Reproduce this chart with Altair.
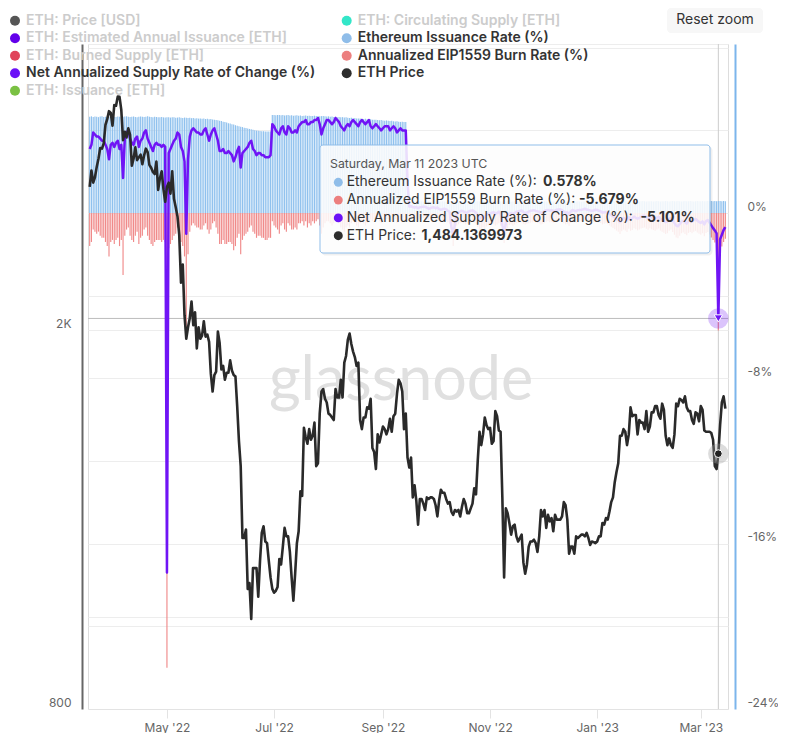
import altair as alt
import pandas as pd

# ---------------- data (daily, 2022-03-18 .. 2023-03-15) ----------------
price_2022_03 = [2830, 2945, 2860, 2897, 2970, 3030, 3110, 3105, 3145, 3290, 3335, 3400, 3385, 3282]
price_2022_04 = [3450, 3445, 3522, 3520, 3410, 3170, 3235, 3190, 3262, 3210, 2980, 3030, 3115, 3020, 3040,
                 3060, 2990, 3055, 3105, 3080, 2985, 2965, 2935, 2920, 3010, 2810, 2890, 2940, 2815, 2730]
price_2022_05 = [2830, 2860, 2785, 2940, 2750, 2695, 2635, 2520, 2245, 2345, 2075, 1960, 2015, 2060, 2145,
                 2025, 2090, 1915, 2015, 1960, 1975, 2045, 1970, 1980, 1945, 1800, 1725, 1795, 1810, 1995, 1940]
price_2022_06 = [1820, 1835, 1775, 1805, 1805, 1860, 1815, 1795, 1790, 1665, 1530, 1440, 1210, 1210, 1235,
                 1070, 1085, 995, 1125, 1125, 1125, 1050, 1145, 1225, 1245, 1200, 1195, 1145, 1100, 1070]
price_2022_07 = [1060, 1065, 1075, 1150, 1135, 1185, 1240, 1215, 1215, 1170, 1100, 1040, 1110, 1195, 1230,
                 1355, 1340, 1580, 1545, 1520, 1575, 1535, 1550, 1600, 1440, 1450, 1635, 1725, 1735, 1695, 1680]
price_2022_08 = [1635, 1630, 1620, 1610, 1735, 1700, 1700, 1775, 1700, 1850, 1880, 1955, 1985, 1935, 1900,
                 1875, 1835, 1850, 1610, 1575, 1620, 1620, 1660, 1655, 1695, 1505, 1490, 1430, 1555, 1525, 1555]
price_2022_09 = [1585, 1575, 1555, 1575, 1615, 1565, 1625, 1635, 1715, 1775, 1760, 1725, 1575, 1635, 1470,
                 1435, 1470, 1335, 1375, 1325, 1250, 1330, 1330, 1315, 1295, 1335, 1330, 1335, 1335, 1330]
price_2022_10 = [1310, 1275, 1325, 1360, 1350, 1350, 1330, 1315, 1320, 1290, 1280, 1295, 1290, 1295, 1275,
                 1305, 1330, 1315, 1285, 1285, 1300, 1315, 1365, 1345, 1460, 1565, 1515, 1555, 1620, 1590, 1575]
price_2022_11 = [1580, 1520, 1530, 1645, 1625, 1570, 1565, 1335, 1100, 1300, 1285, 1255, 1220, 1245, 1250,
                 1215, 1200, 1210, 1220, 1140, 1110, 1135, 1185, 1200, 1200, 1205, 1195, 1170, 1215, 1295]
price_2022_12 = [1275, 1295, 1240, 1280, 1260, 1270, 1230, 1280, 1265, 1265, 1265, 1275, 1320, 1310, 1265,
                 1165, 1185, 1185, 1165, 1215, 1210, 1215, 1220, 1220, 1215, 1225, 1210, 1190, 1200, 1198, 1195]
price_2023_01 = [1200, 1215, 1215, 1255, 1250, 1270, 1265, 1290, 1320, 1335, 1385, 1420, 1450, 1550, 1550,
                 1575, 1565, 1515, 1555, 1660, 1625, 1630, 1630, 1555, 1610, 1600, 1600, 1575, 1645, 1565, 1585]
price_2023_02 = [1640, 1640, 1665, 1665, 1630, 1615, 1675, 1650, 1550, 1515, 1540, 1515, 1505, 1555, 1675,
                 1665, 1695, 1690, 1680, 1705, 1660, 1645, 1645, 1610, 1595, 1640, 1635, 1605]
price_2023_03 = [1665, 1650, 1570, 1565, 1565, 1565, 1560, 1535, 1440, 1430, 1484.1369973, 1590, 1680, 1705, 1655]

# pre-merge (2022-03-18 .. 2022-09-15), rows of 10 days
iss_pre = [
    4.66, 4.68, 4.65, 4.67, 4.66, 4.64, 4.67, 4.68, 4.65, 4.66,
    4.67, 4.65, 4.66, 4.68, 4.66, 4.65, 4.67, 4.66, 4.64, 4.66,
    4.67, 4.68, 4.66, 4.65, 4.66, 4.67, 4.65, 4.64, 4.66, 4.67,
    4.66, 4.65, 4.66, 4.68, 4.66, 4.65, 4.64, 4.66, 4.65, 4.63,
    4.64, 4.65, 4.63, 4.62, 4.64, 4.63, 4.62, 4.64, 4.63, 4.61,
    4.62, 4.63, 4.61, 4.60, 4.62, 4.61, 4.60, 4.61, 4.59, 4.60,
    4.58, 4.59, 4.57, 4.58, 4.56, 4.57, 4.55, 4.56, 4.54, 4.55,
    4.53, 4.52, 4.50, 4.49, 4.47, 4.45, 4.42, 4.40, 4.38, 4.35,
    4.33, 4.30, 4.28, 4.25, 4.23, 4.20, 4.18, 4.16, 4.13, 4.11,
    4.09, 4.07, 4.05, 4.03, 4.01, 3.99, 3.98, 3.97, 3.96, 3.96,
    3.95, 3.95, 3.94, 3.95, 4.74, 4.75, 4.73, 4.74, 4.75, 4.73,
    4.74, 4.72, 4.73, 4.74, 4.72, 4.73, 4.71, 4.72, 4.73, 4.71,
    4.72, 4.70, 4.71, 4.72, 4.70, 4.71, 4.69, 4.70, 4.71, 4.69,
    4.70, 4.68, 4.69, 4.70, 4.68, 4.67, 4.68, 4.66, 4.67, 4.65,
    4.66, 4.64, 4.65, 4.63, 4.64, 4.62, 4.63, 4.61, 4.60, 4.61,
    4.59, 4.60, 4.58, 4.57, 4.58, 4.56, 4.55, 4.56, 4.54, 4.53,
    4.54, 4.52, 4.51, 4.52, 4.50, 4.49, 4.50, 4.48, 4.47, 4.48,
    4.46, 4.45, 4.46, 4.44, 4.43, 4.44, 4.42, 4.41, 4.42, 4.40,
    4.40, 1.90,
]
burn_pre = [
    -1.6, -1.4, -0.8, -0.9, -1.0, -0.9, -1.1, -1.2, -1.2, -1.4,
    -1.6, -2.1, -1.4, -1.3, -1.5, -1.3, -1.2, -1.6, -1.3, -3.0,
    -1.1, -0.8, -0.7, -1.1, -1.3, -1.4, -1.1, -0.9, -1.5, -1.2,
    -1.1, -0.8, -0.7, -1.1, -1.3, -1.5, -1.6, -1.4, -1.3, -1.3,
    -1.3, -1.4, -1.3, -1.4, -22.0, -1.7, -1.5, -1.3, -1.1, -1.0,
    -0.7, -0.8, -1.4, -1.6, -2.1, -5.6, -2.0, -0.9, -0.6, -0.5,
    -0.6, -0.7, -0.7, -0.8, -0.8, -0.6, -0.5, -0.8, -1.0, -0.8,
    -0.5, -0.4, -0.7, -1.0, -1.5, -1.5, -1.3, -1.5, -1.5, -1.4,
    -1.4, -1.5, -1.8, -1.6, -1.2, -1.0, -2.0, -1.3, -1.1, -1.0,
    -0.9, -0.7, -0.6, -0.9, -1.0, -1.2, -1.1, -1.1, -1.2, -1.2,
    -1.3, -1.3, -1.2, -1.2, -0.4, -0.6, -0.7, -0.8, -1.0, -0.6,
    -0.5, -0.8, -0.9, -0.5, -0.6, -0.8, -0.8, -0.7, -0.8, -0.5,
    -0.5, -0.4, -0.6, -0.4, -0.7, -0.5, -0.6, -0.4, -0.5, -0.4,
    -0.3, -0.6, -1.0, -0.7, -0.5, -0.4, -0.4, -0.5, -0.6, -0.5,
    -0.3, -0.4, -0.5, -0.7, -0.8, -0.9, -0.7, -0.6, -0.7, -0.5,
    -0.4, -0.5, -0.6, -0.7, -0.5, -0.4, -0.5, -0.6, -0.5, -0.4,
    -0.3, -0.4, -0.3, -0.2, -0.3, -0.4, -0.5, -0.4, -0.3, -0.3,
    -0.3, -0.4, -0.4, -0.2, -0.3, -0.5, -0.4, -0.3, -0.4, -0.4,
    -0.4, -0.4,
]
net_pre = [
    3.1, 3.3, 3.9, 3.8, 3.7, 3.7, 3.6, 3.5, 3.5, 3.3,
    3.1, 2.6, 3.3, 3.4, 3.2, 3.4, 3.5, 3.1, 3.3, 1.7,
    3.6, 3.9, 4.0, 3.6, 3.4, 3.3, 3.6, 3.7, 3.2, 3.5,
    3.6, 3.9, 4.0, 3.6, 3.4, 3.2, 3.0, 3.3, 3.4, 3.3,
    3.3, 3.2, 3.3, 3.2, -17.4, 2.9, 3.1, 3.3, 3.5, 3.6,
    3.9, 3.8, 3.2, 3.0, 2.5, -1.0, 2.6, 3.7, 4.0, 4.1,
    4.0, 3.9, 3.9, 3.8, 3.8, 4.0, 4.1, 3.8, 3.5, 3.8,
    4.0, 4.1, 3.8, 3.5, 3.0, 3.0, 3.1, 2.9, 2.9, 3.0,
    2.9, 2.8, 2.5, 2.7, 3.0, 3.2, 2.2, 2.9, 3.0, 3.1,
    3.2, 3.4, 3.5, 3.1, 3.0, 2.8, 2.9, 2.9, 2.8, 2.8,
    2.7, 2.7, 2.7, 2.8, 4.3, 4.2, 4.0, 3.9, 3.8, 4.1,
    4.2, 3.9, 3.8, 4.2, 4.1, 3.9, 3.9, 4.0, 3.9, 4.2,
    4.3, 4.4, 4.4, 4.5, 4.3, 4.3, 4.4, 4.4, 4.5, 4.5,
    4.6, 4.3, 3.8, 4.1, 4.3, 4.5, 4.5, 4.4, 4.3, 4.4,
    4.6, 4.5, 4.4, 4.2, 4.1, 4.0, 4.2, 4.3, 4.2, 4.4,
    4.5, 4.4, 4.3, 4.2, 4.4, 4.5, 4.4, 4.3, 4.4, 4.5,
    4.2, 4.1, 4.2, 4.3, 4.2, 4.1, 4.0, 4.1, 4.2, 4.2,
    4.2, 4.0, 4.1, 4.2, 4.1, 3.9, 4.0, 4.1, 4.0, 4.0,
    4.0, 1.5,
]

# post-merge (2022-09-16 .. 2023-03-15), one list per month
iss_2022_09 = [0.56, 0.55, 0.57, 0.56, 0.55, 0.56, 0.57, 0.56, 0.55, 0.56, 0.57, 0.56, 0.55, 0.57, 0.56]
iss_2022_10 = [0.56, 0.57, 0.55, 0.56, 0.57, 0.56, 0.55, 0.56, 0.57, 0.56, 0.55, 0.56, 0.57, 0.56, 0.56, 0.55,
               0.57, 0.56, 0.55, 0.56, 0.57, 0.56, 0.55, 0.56, 0.57, 0.56, 0.55, 0.56, 0.57, 0.56, 0.56]
iss_2022_11 = [0.56, 0.57, 0.56, 0.55, 0.56, 0.57, 0.56, 0.56, 0.55, 0.56, 0.57, 0.56, 0.55, 0.56, 0.57,
               0.56, 0.56, 0.55, 0.56, 0.57, 0.56, 0.55, 0.56, 0.57, 0.56, 0.56, 0.55, 0.56, 0.57, 0.56]
iss_2022_12 = [0.56, 0.57, 0.56, 0.55, 0.56, 0.57, 0.56, 0.56, 0.57, 0.56, 0.55, 0.56, 0.57, 0.56, 0.56, 0.55,
               0.56, 0.57, 0.56, 0.56, 0.57, 0.56, 0.55, 0.56, 0.57, 0.56, 0.56, 0.57, 0.56, 0.55, 0.56]
iss_2023_01 = [0.57, 0.56, 0.56, 0.57, 0.56, 0.55, 0.56, 0.57, 0.56, 0.57, 0.56, 0.56, 0.57, 0.58, 0.57, 0.56,
               0.57, 0.56, 0.57, 0.56, 0.57, 0.57, 0.56, 0.57, 0.56, 0.57, 0.58, 0.57, 0.56, 0.57, 0.57]
iss_2023_02 = [0.57, 0.56, 0.57, 0.58, 0.57, 0.56, 0.57, 0.57, 0.58, 0.57, 0.56, 0.57, 0.58, 0.57,
               0.57, 0.58, 0.57, 0.56, 0.57, 0.58, 0.57, 0.57, 0.58, 0.57, 0.56, 0.57, 0.58, 0.57]
iss_2023_03 = [0.57, 0.58, 0.57, 0.57, 0.58, 0.57, 0.58, 0.57, 0.58, 0.57, 0.578, 0.58, 0.57, 0.58, 0.57]

burn_2022_09 = [-0.25, -0.22, -0.28, -0.30, -0.26, -0.33, -0.29, -0.27, -0.24, -0.26, -0.31, -0.35, -0.32, -0.30, -0.28]
burn_2022_10 = [-0.33, -0.30, -0.36, -0.40, -0.38, -0.35, -0.37, -0.45, -0.52, -1.25, -1.60, -1.10, -0.62, -0.55, -0.48,
                -0.44, -0.50, -0.55, -0.52, -0.48, -0.46, -0.43, -0.47, -0.55, -0.68, -0.82, -0.76, -0.70, -0.78, -0.65, -0.60]
burn_2022_11 = [-0.58, -0.55, -0.52, -0.60, -0.56, -0.50, -0.62, -1.15, -1.45, -1.05, -0.72, -0.58, -0.55, -0.62, -0.57,
                -0.50, -0.48, -0.45, -0.44, -0.52, -0.56, -0.53, -0.49, -0.46, -0.44, -0.42, -0.45, -0.48, -0.51, -0.55]
burn_2022_12 = [-0.52, -0.48, -0.42, -0.40, -0.45, -0.43, -0.47, -0.44, -0.41, -0.39, -0.37, -0.42, -0.50, -0.55, -0.52,
                -0.62, -0.48, -0.42, -0.45, -0.47, -0.43, -0.41, -0.40, -0.38, -0.36, -0.39, -0.41, -0.44, -0.46, -0.43, -0.40]
burn_2023_01 = [-0.42, -0.45, -0.48, -0.55, -0.52, -0.50, -0.54, -0.60, -0.66, -0.72, -0.78, -0.85, -0.90, -1.02, -0.88,
                -0.80, -0.84, -0.92, -0.76, -0.86, -0.82, -0.74, -0.79, -0.84, -0.80, -0.75, -0.72, -0.70, -0.76, -0.81, -0.74]
burn_2023_02 = [-0.78, -0.82, -0.86, -0.80, -0.75, -0.84, -0.90, -0.95, -1.02, -0.98, -0.86, -0.80, -0.92, -1.05,
                -1.18, -1.22, -1.10, -0.98, -0.94, -1.02, -1.08, -0.96, -0.92, -0.98, -0.90, -0.86, -0.94, -1.00]
burn_2023_03 = [-1.05, -0.98, -1.12, -0.96, -0.92, -1.04, -1.18, -1.30, -1.42, -1.55, -5.679, -1.85, -1.62, -1.40, -1.25]

net_2022_09 = [0.31, 0.33, 0.29, 0.26, 0.29, 0.23, 0.28, 0.29, 0.31, 0.30, 0.26, 0.21, 0.23, 0.27, 0.28]
net_2022_10 = [0.23, 0.27, 0.19, 0.16, 0.19, 0.21, 0.18, 0.11, 0.05, -0.69, -1.05, -0.54, -0.05, 0.01, 0.08,
               0.11, 0.07, 0.01, 0.03, 0.08, 0.11, 0.13, 0.08, 0.01, -0.11, -0.26, -0.21, -0.14, -0.21, -0.09, -0.04]
net_2022_11 = [-0.02, 0.02, 0.04, -0.05, 0.00, 0.07, -0.06, -0.59, -0.90, -0.49, -0.15, -0.02, 0.00, -0.06, 0.00,
               0.06, 0.08, 0.10, 0.12, 0.05, 0.00, 0.02, 0.07, 0.11, 0.12, 0.14, 0.10, 0.08, 0.06, 0.01]
net_2022_12 = [0.04, 0.09, 0.14, 0.15, 0.11, 0.14, 0.09, 0.12, 0.16, 0.17, 0.18, 0.14, 0.07, 0.01, 0.04,
               -0.07, 0.08, 0.15, 0.11, 0.09, 0.14, 0.15, 0.15, 0.18, 0.21, 0.17, 0.15, 0.13, 0.10, 0.12, 0.16]
net_2023_01 = [0.15, 0.11, 0.08, 0.02, 0.04, 0.05, 0.02, -0.03, -0.10, -0.15, -0.22, -0.29, -0.33, -0.44, -0.31,
               -0.24, -0.27, -0.36, -0.19, -0.30, -0.25, -0.17, -0.23, -0.27, -0.24, -0.18, -0.14, -0.13, -0.20, -0.24, -0.17]
net_2023_02 = [-0.21, -0.26, -0.29, -0.22, -0.18, -0.28, -0.33, -0.38, -0.44, -0.41, -0.30, -0.23, -0.34, -0.48,
               -0.61, -0.64, -0.53, -0.42, -0.37, -0.44, -0.51, -0.39, -0.34, -0.41, -0.34, -0.29, -0.36, -0.43]
net_2023_03 = [-0.48, -0.40, -0.55, -0.39, -0.34, -0.47, -0.60, -0.73, -0.84, -0.98, -5.101, -1.27, -1.05, -0.82, -0.68]

legend_labels = ["ETH: Price [USD]", "ETH: Estimated Annual Issuance [ETH]", "ETH: Burned Supply [ETH]",
                 "Net Annualized Supply Rate of Change (%)", "ETH: Issuance [ETH]",
                 "ETH: Circulating Supply [ETH]", "Ethereum Issuance Rate (%)",
                 "Annualized EIP1559 Burn Rate (%)", "ETH Price"]
legend_colors = ["#555555", "#6200ea", "#e0445a", "#6a11f7", "#7ac143",
                 "#33e6c8", "#8fbde9", "#ec7f7f", "#2d2d2d"]
legend_active = [False, False, False, True, False, False, True, True, True]
legend_col = [0, 0, 0, 0, 0, 1, 1, 1, 1]
legend_row = [0, 1, 2, 3, 4, 0, 1, 2, 3]

tip_date = "Saturday, Mar 11 2023 UTC"
tip_labels = ["Ethereum Issuance Rate (%): ", "Annualized EIP1559 Burn Rate (%): ",
              "Net Annualized Supply Rate of Change (%): ", "ETH Price: "]
tip_values = ["0.578%", "-5.679%", "-5.101%", "1,484.1369973"]
tip_colors = ["#8fbde9", "#ec7f7f", "#6a11f7", "#2d2d2d"]
hover_day = "2023-03-11"
hover_net = -5.101
hover_price = 1484.1369973

month_ticks = ["2022-05-01", "2022-07-01", "2022-09-01", "2022-11-01", "2023-01-01", "2023-03-01"]

# ---------------- assemble ----------------
price = (price_2022_03 + price_2022_04 + price_2022_05 + price_2022_06 + price_2022_07 + price_2022_08 +
         price_2022_09 + price_2022_10 + price_2022_11 + price_2022_12 + price_2023_01 + price_2023_02 + price_2023_03)
iss = iss_pre + iss_2022_09 + iss_2022_10 + iss_2022_11 + iss_2022_12 + iss_2023_01 + iss_2023_02 + iss_2023_03
burn = burn_pre + burn_2022_09 + burn_2022_10 + burn_2022_11 + burn_2022_12 + burn_2023_01 + burn_2023_02 + burn_2023_03
net = net_pre + net_2022_09 + net_2022_10 + net_2022_11 + net_2022_12 + net_2023_01 + net_2023_02 + net_2023_03
N = len(price)
assert len(iss) == N and len(burn) == N and len(net) == N, (N, len(iss), len(burn), len(net))


def ms(s):
    return int(pd.Timestamp(s, tz="UTC").value // 10**6)


DAY = 86400000
t0 = ms("2022-03-18")
df = pd.DataFrame({"t": [t0 + i * DAY for i in range(N)], "price": price, "iss": iss, "burn": burn, "net": net})
hover = pd.DataFrame({"t": [ms(hover_day)], "net": [hover_net], "price": [hover_price]})
one = pd.DataFrame({"a": [0]})

FONT = "Inter"
x_axis = alt.Axis(values=[ms(m) for m in month_ticks], labelExpr="utcFormat(datum.value, \"%b '%y\")",
                  grid=False, domainColor="#e3e3e3", tickColor="#e3e3e3", tickSize=9, labelColor="#666666",
                  labelFontSize=12, labelPadding=4, labelFlush=False, title=None, labelFont=FONT)
X = alt.X("t:T", scale=alt.Scale(type="utc", domain=[ms("2022-03-17T01:00"), ms("2023-03-16T12:00")]),
          axis=x_axis, title=None)

pct_scale = alt.Scale(domain=[-24, 8.18], nice=False, zero=False)
pct_axis = alt.Axis(orient="right", values=[-24, -20, -16, -12, -8, -4, 0, 4, 8],
                    labelExpr="(datum.value % 8 == 0 && datum.value <= 0) ? datum.value + '%' : ''",
                    grid=True, gridColor="#ededed", domainColor="#7cb5ec", domainWidth=2, offset=7,
                    ticks=False, tickSize=0, labelColor="#666666", labelFontSize=12, labelPadding=12,
                    labelOffset=-7, title=None, labelFont=FONT)
price_scale = alt.Scale(type="log", domain=[800, 4000], nice=False)
price_axis = alt.Axis(orient="left", values=[800, 1000, 2000, 4000],
                      labelExpr="datum.value == 2000 ? '2K' : (datum.value == 800 ? '800' : '')",
                      grid=True, gridColor="#ededed", domainColor="#666666", domainWidth=2, offset=6,
                      ticks=False, tickSize=0, labelColor="#666666", labelFontSize=12, labelPadding=11,
                      labelOffset=-7, title=None, labelFont=FONT)

PURPLE = "#7014f5"


def Ypct(f):
    return alt.Y(f, scale=pct_scale, axis=pct_axis, title=None)


def Yprice(f):
    return alt.Y(f, scale=price_scale, axis=price_axis, title=None)


vcross = alt.Chart(hover).mark_rule(color="#cccccc", strokeWidth=1).encode(x=X)
hcross = alt.Chart(hover).mark_rule(color="#bdbdbd", strokeWidth=1).encode(y=Ypct("net:Q"))
blue = alt.Chart(df).mark_rule(color="#8fc1ee", strokeWidth=1.15).encode(x=X, y=Ypct("iss:Q"), y2=alt.datum(0))
red = alt.Chart(df).mark_rule(color="#f08a8a", strokeWidth=1.15).encode(x=X, y=Ypct("burn:Q"), y2=alt.datum(0))
purple = alt.Chart(df).mark_line(color=PURPLE, strokeWidth=2.5, strokeJoin="round").encode(x=X, y=Ypct("net:Q"))
p_halo = alt.Chart(hover).mark_point(filled=True, shape="circle", size=420, color=PURPLE, opacity=0.25).encode(
    x=X, y=Ypct("net:Q"))
p_mark = alt.Chart(hover).mark_point(filled=True, shape="triangle-down", size=70, fill=PURPLE, stroke="white",
                                     strokeWidth=1, opacity=1).encode(x=X, y=Ypct("net:Q"))
pct_group = alt.layer(vcross, hcross, blue, red, purple, p_halo, p_mark)

price_line = alt.Chart(df).mark_line(color="#2a2a2a", strokeWidth=2.6, strokeJoin="round").encode(
    x=X, y=Yprice("price:Q"))
k_halo = alt.Chart(hover).mark_point(filled=True, shape="circle", size=420, color="#9a9a9a", opacity=0.35).encode(
    x=X, y=Yprice("price:Q"))
k_mark = alt.Chart(hover).mark_point(filled=True, shape="circle", size=60, fill="#222222", stroke="white",
                                     strokeWidth=1, opacity=1).encode(x=X, y=Yprice("price:Q"))
price_group = alt.layer(price_line, k_halo, k_mark)

main = alt.layer(pct_group, price_group).resolve_scale(y="independent")

# watermark
watermark = alt.Chart(one).mark_text(text="glassnode", font="Lato", fontSize=61, color="#e0e0e0",
                                     align="center", baseline="middle").encode(x=alt.value(313), y=alt.value(338))

# tooltip
tip_df = pd.DataFrame({"row": [0, 1, 2, 3], "label": tip_labels, "value": tip_values, "color": tip_colors,
                       "vx": [455.0, 491.0, 552.5, 333.5]})
tip_y = alt.Y("row:Q", scale=alt.Scale(domain=[0, 3], range=[138.3, 191.7]), axis=None)
tip_shadow = alt.Chart(one).mark_rect(fill="#000000", fillOpacity=0.06, cornerRadius=4).encode(
    x=alt.value(233.5), x2=alt.value(624.5), y=alt.value(102.5), y2=alt.value(211.5))
tip_box = alt.Chart(one).mark_rect(fill="white", fillOpacity=0.86, stroke="#8fbde9", strokeWidth=1,
                                   cornerRadius=3).encode(
    x=alt.value(232), x2=alt.value(622), y=alt.value(101), y2=alt.value(209))
tip_head = alt.Chart(one).mark_text(text=tip_date, align="left", baseline="middle", font=FONT, fontSize=12.3,
                                    color="#555555").encode(x=alt.value(242), y=alt.value(120))
tip_dots = alt.Chart(tip_df).mark_circle(size=80, opacity=1).encode(
    x=alt.value(250.3), y=tip_y, color=alt.Color("color:N", scale=None))
tip_lab = alt.Chart(tip_df).mark_text(align="left", baseline="middle", font=FONT, fontSize=13.9,
                                      color="#333333").encode(x=alt.value(258.7), y=tip_y, text="label:N")
tip_val = alt.Chart(tip_df).mark_text(align="left", baseline="middle", font=FONT, fontSize=14, fontWeight="bold",
                                      color="#333333").encode(x=alt.X("vx:Q", scale=None), y=tip_y, text="value:N")

# legend
leg_df = pd.DataFrame({"label": legend_labels, "color": legend_colors, "col": legend_col, "row": legend_row,
                       "tc": ["#333333" if a else "#cccccc" for a in legend_active]})
leg_x = alt.X("col:Q", scale=alt.Scale(domain=[0, 1], range=[-73, 258.7]), axis=None)
leg_y = alt.Y("row:Q", scale=alt.Scale(domain=[0, 4], range=[-23.3, 46.7]), axis=None)
leg_dots = alt.Chart(leg_df).mark_circle(size=100, opacity=1).encode(
    x=leg_x, y=leg_y, color=alt.Color("color:N", scale=None))
leg_text = alt.Chart(leg_df).mark_text(align="left", baseline="middle", dx=11, font=FONT, fontSize=14,
                                       fontWeight=600).encode(
    x=leg_x, y=leg_y, text="label:N", color=alt.Color("tc:N", scale=None))

# reset zoom button
btn = alt.Chart(one).mark_rect(fill="#f7f7f7", cornerRadius=4).encode(
    x=alt.value(579), x2=alt.value(675), y=alt.value(-36), y2=alt.value(-11))
btn_txt = alt.Chart(one).mark_text(text="Reset zoom", font=FONT, fontSize=14, color="#333333",
                                   align="center", baseline="middle").encode(x=alt.value(627), y=alt.value(-24))

chart = alt.layer(
    watermark, main, tip_shadow, tip_box, tip_head, tip_dots, tip_lab, tip_val, leg_dots, leg_text, btn, btn_txt
).resolve_scale(x="independent", y="independent", color="independent").properties(
    width=640, height=665,
    autosize=alt.AutoSizeParams(type="none"),
    padding={"left": 80, "top": 36, "right": 50, "bottom": 24},
).configure_view(stroke=None).configure(font=FONT)

chart.save("out.html", embed_options={"renderer": "svg", "actions": False})
